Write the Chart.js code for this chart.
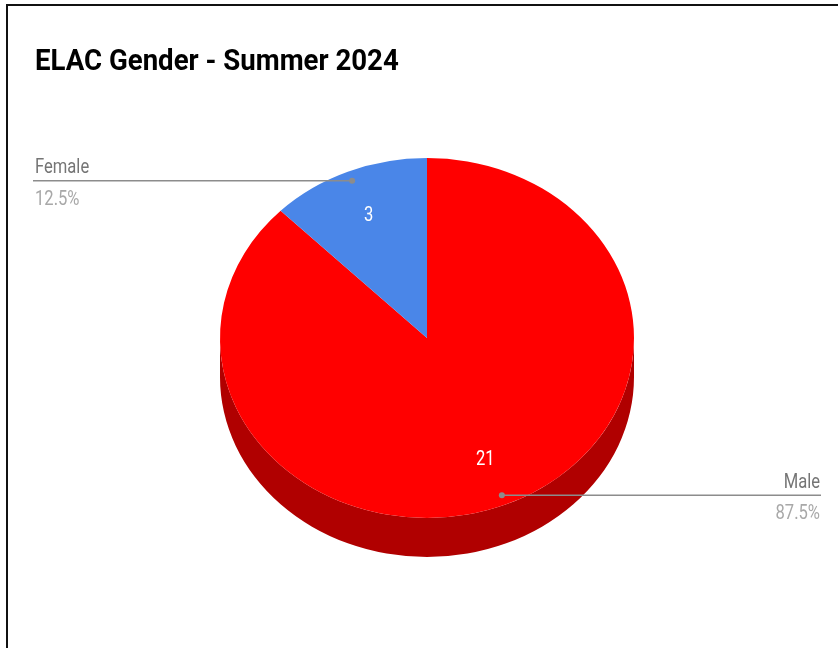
<!DOCTYPE html>
<html>
<head>
<meta charset="utf-8">
<script src="https://cdn.jsdelivr.net/npm/chart.js@4.4.1/dist/chart.umd.min.js"></script>
<style>
    body { margin: 0; background: #fff; }
    #wrap { position: relative; width: 838px; height: 648px; overflow: hidden; }
    #frame { position: absolute; left: 6px; top: 4px; width: 900px; height: 700px;
             border-top: 2px solid #111; border-left: 2px solid #111; }
    canvas { position: absolute; left: 0; top: 0; }
</style>
</head>
<body>
<div id="wrap">
    <div id="frame"></div>
    <canvas id="chart" width="838" height="648"></canvas>
</div>
<script>
// Data
const chartTitle = 'ELAC Gender - Summer 2024';
const categories = ['Male', 'Female'];
const counts = [21, 3];
const sliceColors = ['#ff0000', '#4a86e8'];
const sideColors = ['#b00000', '#2f5fb0'];

// 3D look
const TILT = 180 / 207;   // vertical squash of the pie
const DEPTH = 39;         // thickness of the side in px
const SX = 0.79;          // horizontal text squeeze
const TITLE_SX = 0.92;

function squeezedText(ctx, text, x, y, align, sx) {
    ctx.save();
    ctx.translate(x, y);
    ctx.scale(sx || SX, 1);
    ctx.textAlign = align;
    ctx.fillText(text, 0, 0);
    ctx.restore();
}

const pie3d = {
    id: 'pie3d',
    beforeDatasetsDraw(chart) {
        const ctx = chart.ctx;
        const arcs = chart.getDatasetMeta(0).data;
        const cx = arcs[0].x, cy = arcs[0].y, r = arcs[0].outerRadius;
        ctx.save();
        ctx.translate(cx, cy);
        ctx.scale(1, TILT);
        ctx.translate(-cx, -cy);
        const d = DEPTH / TILT;
        arcs.forEach((arc, i) => {
            const a0 = Math.max(arc.startAngle, 0);
            const a1 = Math.min(arc.endAngle, Math.PI);
            if (a1 <= a0) return;
            ctx.beginPath();
            ctx.arc(cx, cy + d, r, a0, a1);
            ctx.arc(cx, cy, r, a1, a0, true);
            ctx.closePath();
            ctx.fillStyle = sideColors[i];
            ctx.fill();
        });
    },
    afterDatasetsDraw(chart) {
        chart.ctx.restore();
    },
    afterDraw(chart) {
        const ctx = chart.ctx;
        const arcs = chart.getDatasetMeta(0).data;
        const total = counts.reduce((a, b) => a + b, 0);

        // title
        ctx.fillStyle = '#000';
        ctx.font = 'bold 30px Roboto';
        ctx.textBaseline = 'alphabetic';
        squeezedText(ctx, chartTitle, 35, 70, 'left', TITLE_SX);

        arcs.forEach((arc, i) => {
            const mid = (arc.startAngle + arc.endAngle) / 2;
            const c = Math.cos(mid), s = Math.sin(mid);
            const r = arc.outerRadius;

            // value inside slice
            ctx.fillStyle = '#fff';
            ctx.font = '21px Roboto';
            ctx.textBaseline = 'middle';
            squeezedText(ctx, String(counts[i]), arc.x + 0.735 * r * c, arc.y + 0.735 * r * s * TILT, 'center');

            // leader line and outside labels
            const dx = arc.x + 0.945 * r * c;
            const dy = arc.y + 0.945 * r * s * TILT;
            const left = c < 0;
            const endX = left ? 33 : 821;
            ctx.strokeStyle = '#8c8c8c';
            ctx.lineWidth = 1.5;
            ctx.beginPath();
            ctx.moveTo(dx, dy);
            ctx.lineTo(endX, dy);
            ctx.stroke();
            ctx.fillStyle = '#8c8c8c';
            ctx.beginPath();
            ctx.arc(dx, dy, 3, 0, Math.PI * 2);
            ctx.fill();

            ctx.textBaseline = 'alphabetic';
            ctx.font = '21px Roboto';
            const tx = left ? 35 : 820;
            const align = left ? 'left' : 'right';
            ctx.fillStyle = '#757575';
            squeezedText(ctx, categories[i], tx, dy - 7.5, align);
            ctx.fillStyle = '#a8a8a8';
            squeezedText(ctx, (counts[i] / total * 100).toFixed(1) + '%', tx, dy + 24, align);
        });
    }
};

new Chart(document.getElementById('chart'), {
    type: 'pie',
    data: {
        labels: categories,
        datasets: [{
            data: counts,
            backgroundColor: sliceColors,
            borderWidth: 0
        }]
    },
    options: {
        responsive: false,
        animation: false,
        layout: { padding: { left: 220, right: 204, top: 131, bottom: 103 } },
        plugins: {
            legend: { display: false },
            tooltip: { enabled: false },
            title: { display: false }
        }
    },
    plugins: [pie3d]
});
</script>
</body>
</html>
